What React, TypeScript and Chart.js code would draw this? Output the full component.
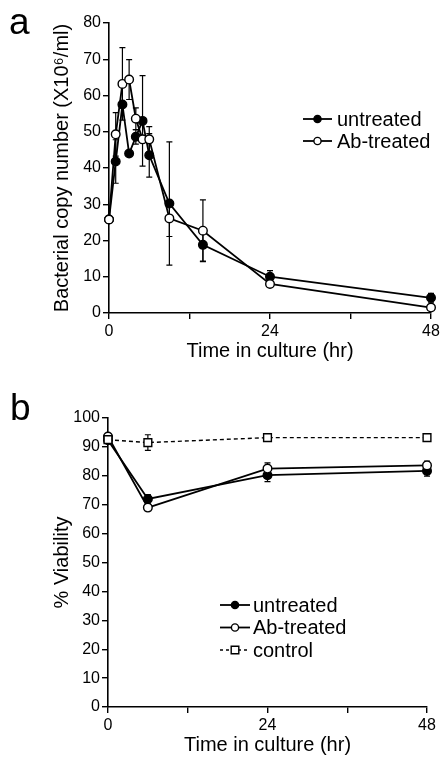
import React, { useEffect, useRef } from "react";
import { Chart, registerables } from "chart.js";
Chart.register(...registerables);

const FONT = "'Liberation Sans', Arial, Helvetica, sans-serif";

// ---- Panel a data ----
const timesA = [0, 1, 2, 3, 4, 5, 6, 9, 14, 24, 48];
const untreatedA = [25.8, 41.8, 57.5, 44.0, 48.6, 53.0, 43.5, 30.2, 18.8, 10.0, 4.2];
const untreatedErrA = [0, 6, 0, 0, 2, 12.5, 6, 17, 4.5, 1.7, 1.2];
const abTreatedA = [25.8, 49.3, 63.2, 64.4, 53.6, 47.9, 47.9, 26.1, 22.7, 8.0, 1.5];
const abTreatedErrA = [0, 6, 10, 5.5, 3, 0, 3.5, 5, 8.5, 0, 0];

// ---- Panel b data ----
const timesB = [0, 6, 24, 48];
const untreatedB = [92.3, 72.0, 80.2, 81.7];
const untreatedErrB = [1, 1.5, 2.2, 1.8];
const abTreatedB = [93.6, 69.0, 82.5, 83.6];
const abTreatedErrB = [0.8, 0.5, 2, 1.5];
const controlB = [92.5, 91.5, 93.2, 93.2];
const controlErrB = [1, 2.7, 1, 0.5];

// ---- Tick / label text ----
const xTickLabels = ["0", "24", "48"];
const xTitle = "Time in culture (hr)";
const yTitleA = "Bacterial copy number (X10\u2076/ml)";
const yTitleB = "% Viability";
const legendA = ["untreated", "Ab-treated"];
const legendB = ["untreated", "Ab-treated", "control"];

type Style = "filled" | "open" | "square";

function drawMarker(ctx: CanvasRenderingContext2D, x: number, y: number, style: Style, r: number) {
  ctx.save();
  ctx.setLineDash([]);
  ctx.lineWidth = 1.4;
  ctx.strokeStyle = "#000";
  ctx.fillStyle = style === "filled" ? "#000" : "#fff";
  ctx.beginPath();
  if (style === "square") {
    ctx.rect(x - r, y - r, 2 * r, 2 * r);
  } else {
    ctx.arc(x, y, r, 0, Math.PI * 2);
  }
  ctx.fill();
  ctx.stroke();
  ctx.restore();
}

function makeDataset(label: string, xs: number[], ys: number[], errs: number[], style: Style, order: number, dashed = false) {
  return {
    label,
    data: xs.map((x, i) => ({ x, y: ys[i] })),
    errors: errs,
    borderColor: "#000",
    borderWidth: dashed ? 1.4 : 1.8,
    borderDash: dashed ? [4, 3] : [],
    pointStyle: style === "square" ? "rect" : "circle",
    pointRadius: style === "square" ? 5.5 : 4.3,
    pointBackgroundColor: style === "filled" ? "#000" : "#fff",
    pointBorderColor: "#000",
    pointBorderWidth: 1.4,
    tension: 0,
    clip: false,
    order,
  } as any;
}

const errorBarPlugin = {
  id: "errorBars",
  beforeDatasetsDraw(chart: any) {
    const ctx = chart.ctx as CanvasRenderingContext2D;
    const xs = chart.scales.x;
    const ys = chart.scales.y;
    ctx.save();
    ctx.strokeStyle = "#000";
    ctx.lineWidth = 1.2;
    ctx.setLineDash([]);
    chart.data.datasets.forEach((ds: any) => {
      const errs: number[] = ds.errors || [];
      ds.data.forEach((p: any, i: number) => {
        const e = errs[i];
        if (!e) return;
        const px = xs.getPixelForValue(p.x);
        const top = ys.getPixelForValue(p.y + e);
        const bot = ys.getPixelForValue(p.y - e);
        ctx.beginPath();
        ctx.moveTo(px, top);
        ctx.lineTo(px, bot);
        ctx.moveTo(px - 3, top);
        ctx.lineTo(px + 3, top);
        ctx.moveTo(px - 3, bot);
        ctx.lineTo(px + 3, bot);
        ctx.stroke();
      });
    });
    ctx.restore();
  },
};

const annotPlugin = {
  id: "annot",
  afterDraw(chart: any) {
    const o = chart.options.plugins.annot;
    if (!o) return;
    const ctx = chart.ctx as CanvasRenderingContext2D;
    ctx.save();
    ctx.fillStyle = "#000";
    ctx.textBaseline = "alphabetic";
    ctx.textAlign = "left";
    ctx.font = `37px ${FONT}`;
    ctx.fillText(o.letter, o.letterX, o.letterY);
    ctx.font = `20px ${FONT}`;
    ctx.textBaseline = "middle";
    o.items.forEach((it: any, i: number) => {
      const y = o.y0 + i * o.dy;
      ctx.save();
      ctx.strokeStyle = "#000";
      ctx.lineWidth = it.dashed ? 1.4 : 1.8;
      ctx.setLineDash(it.dashed ? [3, 3] : []);
      ctx.beginPath();
      ctx.moveTo(o.x0, y);
      ctx.lineTo(o.x1, y);
      ctx.stroke();
      ctx.restore();
      drawMarker(ctx, (o.x0 + o.x1) / 2, y, it.style, it.style === "square" ? 3.8 : 3.6);
      ctx.fillStyle = "#000";
      ctx.fillText(it.label, o.textX, y + 1);
    });
    ctx.restore();
  },
};

function buildOptions(p: {
  padding: any;
  yWidth: number;
  yMax: number;
  yTitle: string;
  annot: any;
}) {
  return {
    animation: false,
    responsive: false,
    devicePixelRatio: 1,
    layout: { padding: p.padding },
    plugins: {
      legend: { display: false },
      tooltip: { enabled: false },
      annot: p.annot,
    },
    scales: {
      x: {
        type: "linear",
        min: 0,
        max: 48,
        ticks: {
          stepSize: 12,
          autoSkip: false,
          maxRotation: 0,
          padding: 3,
          color: "#000",
          font: { family: FONT, size: 16 },
          callback: (v: number) => (xTickLabels.includes(String(v)) ? String(v) : ""),
        },
        grid: { drawOnChartArea: false, drawTicks: true, tickLength: 6, color: "#000", lineWidth: 1.4 },
        border: { display: true, color: "#000", width: 1.6 },
        title: {
          display: true,
          text: xTitle,
          color: "#000",
          font: { family: FONT, size: 20 },
          padding: { top: 4, bottom: 4 },
        },
        afterFit: (s: any) => {
          s.height = 54;
        },
      },
      y: {
        type: "linear",
        min: 0,
        max: p.yMax,
        ticks: {
          stepSize: 10,
          padding: 2,
          color: "#000",
          font: { family: FONT, size: 16 },
        },
        grid: { drawOnChartArea: false, drawTicks: true, tickLength: 6, color: "#000", lineWidth: 1.4 },
        border: { display: true, color: "#000", width: 1.6 },
        title: {
          display: true,
          text: p.yTitle,
          color: "#000",
          font: { family: FONT, size: 20 },
          padding: { top: 4, bottom: 4 },
        },
        afterFit: (s: any) => {
          s.width = p.yWidth;
        },
      },
    },
  } as any;
}

function PanelA() {
  const ref = useRef<HTMLCanvasElement>(null);
  useEffect(() => {
    const chart = new Chart(ref.current!, {
      type: "line",
      data: {
        datasets: [
          makeDataset("untreated", timesA, untreatedA, untreatedErrA, "filled", 2),
          makeDataset("Ab-treated", timesA, abTreatedA, abTreatedErrA, "open", 1),
        ],
      },
      options: buildOptions({
        padding: { left: 46, top: 23, right: 16, bottom: 3 },
        yWidth: 63,
        yMax: 80,
        yTitle: yTitleA,
        annot: {
          letter: "a",
          letterX: 9,
          letterY: 34,
          x0: 303,
          x1: 332,
          textX: 337,
          y0: 119,
          dy: 22,
          items: [
            { label: legendA[0], style: "filled" },
            { label: legendA[1], style: "open" },
          ],
        },
      }),
      plugins: [errorBarPlugin, annotPlugin],
    } as any);
    return () => chart.destroy();
  }, []);
  return <canvas ref={ref} width={447} height={370} style={{ position: "absolute", left: 0, top: 0, display: "block" }} />;
}

function PanelB() {
  const ref = useRef<HTMLCanvasElement>(null);
  useEffect(() => {
    const chart = new Chart(ref.current!, {
      type: "line",
      data: {
        datasets: [
          makeDataset("untreated", timesB, untreatedB, untreatedErrB, "filled", 2),
          makeDataset("Ab-treated", timesB, abTreatedB, abTreatedErrB, "open", 1),
          makeDataset("control", timesB, controlB, controlErrB, "square", 0, true),
        ],
      },
      options: buildOptions({
        padding: { left: 46, top: 48, right: 20, bottom: 2 },
        yWidth: 62,
        yMax: 100,
        yTitle: yTitleB,
        annot: {
          letter: "b",
          letterX: 10,
          letterY: 50,
          x0: 220,
          x1: 250,
          textX: 253,
          y0: 235,
          dy: 22.5,
          items: [
            { label: legendB[0], style: "filled" },
            { label: legendB[1], style: "open" },
            { label: legendB[2], style: "square", dashed: true },
          ],
        },
      }),
      plugins: [errorBarPlugin, annotPlugin],
    } as any);
    return () => chart.destroy();
  }, []);
  return <canvas ref={ref} width={447} height={393} style={{ position: "absolute", left: 0, top: 370, display: "block" }} />;
}

export default function App() {
  return (
    <div style={{ position: "absolute", left: 0, top: 0, width: 447, height: 763, background: "#fff" }}>
      <PanelA />
      <PanelB />
    </div>
  );
}
